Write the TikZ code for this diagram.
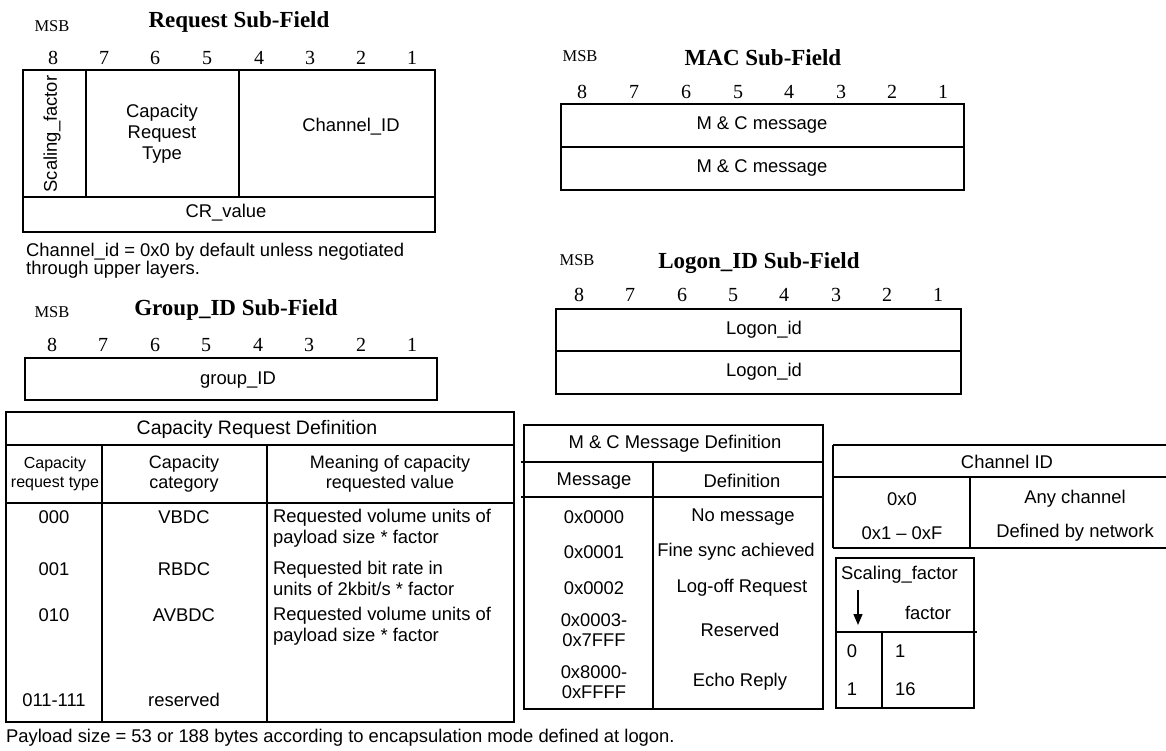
\documentclass[tikz,border=0pt]{standalone}
\usepackage{fontspec}
\setmainfont{Liberation Serif}
\setsansfont{Liberation Sans}
\usetikzlibrary{arrows.meta}
\tikzset{
  bx/.style={draw, line width=1.6pt},
  sf/.style={font=\sffamily\fontsize{18.4}{20.5}\selectfont, inner sep=0pt},
  hd/.style={font=\sffamily\fontsize{18}{19.5}\selectfont, inner sep=0pt, align=center},
  ttl/.style={font=\rmfamily\bfseries\fontsize{23}{26}\selectfont, inner sep=0pt},
  num/.style={font=\rmfamily\fontsize{20}{22}\selectfont, inner sep=0pt},
  msb/.style={font=\rmfamily\fontsize{16.5}{18}\selectfont, inner sep=0pt},
}
\begin{document}
\begin{tikzpicture}[x=1pt,y=-1pt]
\useasboundingbox (0,0) rectangle (1166,751);
% ---------- Request Sub-Field ----------
\node[msb] (rqmsb) at (52,26) {MSB};
\node[ttl] (rqttl) at (239,22) {Request Sub-Field};
\foreach \n/\x in {8/53,7/104,6/155,5/207,4/259,3/310,2/361,1/412}
  \node[num] (rq\n) at (\x,58) {\n};
\draw[bx] (23,70) rectangle (435,232);
\draw[bx] (23,197) -- (435,197);
\draw[bx] (86,70) -- (86,197);
\draw[bx] (239,70) -- (239,197);
\node[sf, rotate=90] (rqsf) at (52,134) {Scaling\_factor};
\node[sf, align=center, font=\sffamily\fontsize{18.4}{21}\selectfont] (rqcrt) at (162,134) {Capacity\\Request\\Type};
\node[sf] (rqch) at (351,127) {Channel\_ID};
\node[sf] (rqcr) at (226,213) {CR\_value};
\node[sf, anchor=north west, align=left, font=\sffamily\fontsize{18.4}{17.5}\selectfont] (rqnote) at (26,243) {Channel\_id = 0x0 by default unless negotiated\\through upper layers.};
% ---------- Group_ID Sub-Field ----------
\node[msb] (gmsb) at (52,312) {MSB};
\node[ttl] (gttl) at (236,310) {Group\_ID Sub-Field};
\foreach \n/\x in {8/52,7/103,6/155,5/206,4/258,3/309,2/361,1/412}
  \node[num] (g\n) at (\x,345) {\n};
\draw[bx] (25,358) rectangle (437,400);
\node[sf] (gid) at (238,380) {group\_ID};
% ---------- MAC Sub-Field ----------
\node[msb] (mmsb) at (580,56) {MSB};
\node[ttl] (mttl) at (763,58) {MAC Sub-Field};
\foreach \n/\x in {8/582,7/634,6/686,5/738,4/789,3/841,2/892,1/943}
  \node[num] (m\n) at (\x,92) {\n};
\draw[bx] (561,104) rectangle (964,190);
\draw[bx] (561,147) -- (964,147);
\node[sf] (mc1) at (762,125) {M \& C message};
\node[sf] (mc2) at (762,168) {M \& C message};
% ---------- Logon_ID Sub-Field ----------
\node[msb] (lmsb) at (577,260) {MSB};
\node[ttl] (lttl) at (759,263) {Logon\_ID Sub-Field};
\foreach \n/\x in {8/579,7/630,6/682,5/733,4/784,3/836,2/887,1/938}
  \node[num] (l\n) at (\x,295) {\n};
\draw[bx] (556,309) rectangle (961,394);
\draw[bx] (556,351) -- (961,351);
\node[sf] (lid1) at (764,330) {Logon\_id};
\node[sf] (lid2) at (764,372) {Logon\_id};
% ---------- Capacity Request Definition ----------
\draw[bx] (6,412) rectangle (514,722);
\draw[bx] (6,445) -- (514,445);
\draw[bx] (6,503) -- (514,503);
\draw[bx] (102,445) -- (102,722);
\draw[bx] (267,445) -- (267,722);
\node[sf, font=\sffamily\fontsize{19.5}{21}\selectfont] (crt) at (257,429) {Capacity Request Definition};
\node[hd, font=\sffamily\fontsize{16}{19.5}\selectfont] (crh1) at (55,474) {Capacity\\request type};
\node[hd] (crh2) at (184,474) {Capacity\\category};
\node[hd] (crh3) at (390,474) {Meaning of capacity\\requested value};
\node[sf] (cr000) at (54,517) {000};
\node[sf] (crvb) at (184,517) {VBDC};
\node[sf, anchor=north west, align=left] (crm1) at (273,509) {Requested volume units of\\payload size * factor};
\node[sf] (cr001) at (54,569) {001};
\node[sf] (crrb) at (184,569) {RBDC};
\node[sf, anchor=north west, align=left] (crm2) at (273,561) {Requested bit rate in\\units of 2kbit/s * factor};
\node[sf] (cr010) at (54,615) {010};
\node[sf] (crav) at (184,615) {AVBDC};
\node[sf, anchor=north west, align=left] (crm3) at (273,607) {Requested volume units of\\payload size * factor};
\node[sf] (cr011) at (54,700) {011-111};
\node[sf] (crres) at (184,700) {reserved};
% ---------- M & C Message Definition ----------
\draw[bx] (524,425) rectangle (823,709);
\draw[bx] (521,462) -- (823,462);
\draw[bx] (521,497) -- (823,497);
\draw[bx] (653,462) -- (653,709);
\node[sf] (mct) at (675,444) {M \& C Message Definition};
\node[sf] (mch1) at (594,481) {Message};
\node[sf] (mch2) at (742,481) {Definition};
\node[sf] (mr1a) at (594,517) {0x0000};
\node[sf] (mr1b) at (743,517) {No message};
\node[sf] (mr2a) at (594,552) {0x0001};
\node[sf] (mr2b) at (736,552) {Fine sync achieved};
\node[sf] (mr3a) at (594,588) {0x0002};
\node[sf] (mr3b) at (742,588) {Log-off Request};
\node[sf, align=center] (mr4a) at (594,630) {0x0003-\\0x7FFF};
\node[sf] (mr4b) at (740,630) {Reserved};
\node[sf, align=center] (mr5a) at (594,682) {0x8000-\\0xFFFF};
\node[sf] (mr5b) at (740,682) {Echo Reply};
% ---------- Channel ID ----------
\draw[bx] (833,445) -- (1166,445);
\draw[bx] (833,477) -- (1166,477);
\draw[bx] (833,548) -- (1166,548);
\draw[bx] (833,445) -- (833,548);
\draw[bx] (970,477) -- (970,548);
\node[sf] (cht) at (1007,462) {Channel ID};
\node[sf] (ch1a) at (902,499) {0x0};
\node[sf] (ch1b) at (1075,499) {Any channel};
\node[sf] (ch2a) at (902,533) {0x1 -- 0xF};
\node[sf] (ch2b) at (1075,533) {Defined by network};
% ---------- Scaling factor ----------
\draw[bx] (836,558) rectangle (974,708);
\draw[bx] (836,632) -- (977,632);
\draw[bx] (882,632) -- (882,708);
\node[sf, anchor=west] (sct) at (841,575) {Scaling\_factor};
\coordinate (arA) at (858,590);
\coordinate (arB) at (858,625);
\draw[line width=1.4pt, -{Triangle[length=11pt,width=9pt]}] (arA) -- (arB);
\node[sf] (scf) at (928,613) {factor};
\node[sf] (sc0) at (852,651) {0};
\node[sf, anchor=west] (sc1) at (895,651) {1};
\node[sf] (sc1a) at (852,689) {1};
\node[sf, anchor=west] (sc16) at (895,689) {16};
% ---------- Footnote ----------
\node[sf, anchor=west] (pnote) at (6,738) {Payload size = 53 or 188 bytes according to encapsulation mode defined at logon.};
\end{tikzpicture}
\end{document}
